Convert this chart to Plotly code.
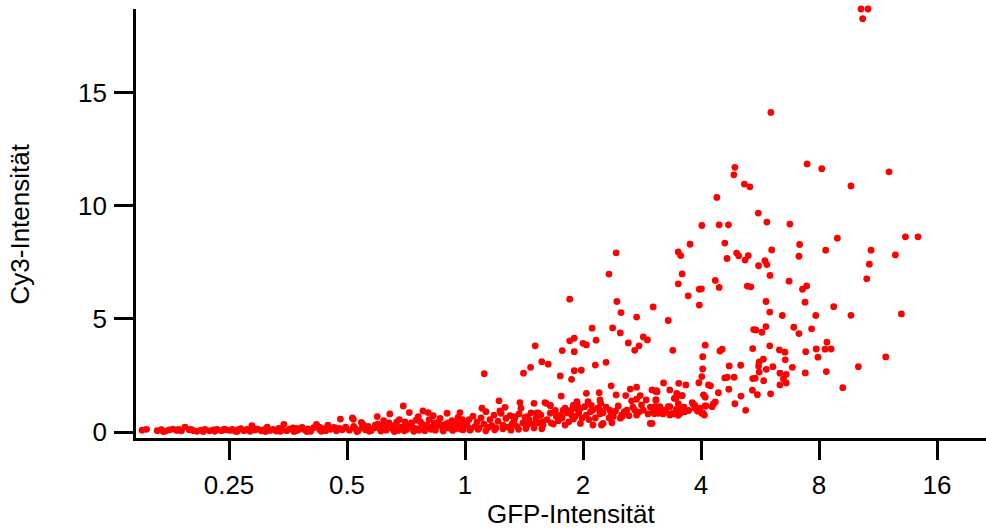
import plotly.graph_objects as go

# ---- data (GFP-Intensität, Cy3-Intensität) ----
band_low = [(0.150,.08),(0.154,.12),(0.164,.06),(0.168,.10),(0.172,.04),(0.176,.09),(0.180,.13),(0.184,.07),
            (0.189,.05),(0.193,.22),(0.198,.10),(0.203,.06),(0.207,.03),(0.212,.08),(0.217,.11),(0.223,.05),
            (0.228,.09),(0.233,.12),(0.239,.06),(0.245,.10),(0.170,.02),(0.186,.11),(0.200,.12),(0.215,.02),
            (0.230,.03),(0.243,.13)]

band_quarter = [(0.251,.07),(0.255,.12),(0.259,.04),(0.264,.10),(0.268,.15),(0.273,.06),(0.278,.11),(0.283,.03),
                (0.286,.28),(0.291,.09),(0.296,.13),(0.302,.05),(0.307,.10),(0.313,.22),(0.318,.07),(0.324,.12),
                (0.330,.04),(0.335,.16),(0.341,.09),(0.345,.34),(0.351,.06),(0.357,.13),(0.364,.18),(0.371,.05),
                (0.377,.11),(0.384,.20),(0.391,.08),(0.397,.14),(0.404,.03),(0.411,.19),(0.418,.34),(0.426,.10),
                (0.434,.15),(0.441,.06),(0.447,.30),(0.454,.12),(0.462,.20),(0.470,.05),(0.479,.16),(0.481,.57),
                (0.486,.10),(0.496,.22),(0.262,.02),(0.289,.15),(0.310,.02),(0.338,.03),(0.366,.02),(0.395,.02),
                (0.430,.03),(0.467,.18),(0.425,.22),(0.372,.16)]

band_half = [(0.507,.08),(0.516,.62),(0.519,.56),(0.525,.15),(0.534,.05),(0.544,.42),(0.547,.20),(0.557,.10),
             (0.566,.25),(0.576,.06),(0.587,.18),(0.597,.68),(0.599,.35),(0.608,.12),(0.618,.28),(0.629,.08),
             (0.640,.40),(0.643,.80),(0.652,.15),(0.663,.30),(0.675,.07),(0.687,.22),(0.696,1.15),(0.703,.45),
             (0.711,.12),(0.721,.86),(0.724,.30),(0.737,.18),(0.750,.52),(0.763,.08),(0.777,.35),(0.781,.93),
             (0.791,.20),(0.805,.86),(0.810,.55),(0.819,.12),(0.834,.40),(0.848,.25),(0.864,.60),(0.879,.10),
             (0.894,.35),(0.900,.83),(0.910,.18),(0.926,.50),(0.943,.28),(0.960,.65),(0.971,.86),(0.977,.12),
             (0.989,.38),(0.53,.02),(0.57,.03),(0.61,.04),(0.66,.02),(0.70,.05),(0.74,.03),(0.79,.06),(0.84,.08),
             (0.88,.04),(0.93,.07),(0.99,.10),(0.62,.50),(0.68,.55),(0.76,.68),(0.83,.72),(0.95,.15),
             (0.705,.25),(0.73,.40),(0.755,.15),(0.77,.45),(0.80,.30),(0.825,.22),(0.855,.45),(0.87,.30),
             (0.905,.40),(0.92,.22),(0.95,.45),(0.965,.30),(0.985,.55),(0.64,.22),(0.67,.45),(0.59,.30),
             (0.55,.32),(0.52,.25)]

band_one = [(1.012,.30),(1.024,.55),(1.036,.15),(1.048,.70),(1.061,.25),(1.073,.45),(1.086,.18),(1.099,.62),
            (1.105,1.05),(1.118,.35),(1.131,.90),(1.145,.20),(1.158,.55),(1.172,.28),(1.186,.75),(1.200,.18),
            (1.214,.48),(1.221,1.38),(1.228,.93),(1.236,.83),(1.250,.30),(1.265,1.09),(1.272,.60),(1.287,.22),
            (1.302,.72),(1.318,.35),(1.333,.50),(1.341,.63),(1.357,.25),(1.373,.80),(1.381,1.30),(1.389,1.05),
            (1.405,.40),(1.422,.65),(1.439,.30),(1.440,.68),(1.456,.55),(1.474,.85),(1.491,.35),(1.500,1.27),
            (1.517,.60),(1.526,.85),(1.544,.40),(1.562,.75),(1.580,.30),(1.599,1.30),(1.03,.08),(1.08,.12),
            (1.13,.05),(1.19,.10),(1.25,.14),(1.31,.08),(1.37,.12),(1.43,.15),(1.50,.18),(1.57,.14),
            (1.33,.68),(1.53,.69),(1.54,.83),(1.61,1.27),(1.65,1.16)]

band_two = [(1.65,1.18),(2.21,1.42),(2.22,1.27),(2.06,1.34),(1.93,1.34),(1.89,1.12),(2.74,1.45),(2.90,1.42),
            (3.07,1.42),(3.42,1.49),(3.58,1.61),(3.86,1.18),(4.10,1.15),(2.36,.85),(2.49,.61),(2.74,.75),
            (2.97,.38),(3.11,.83),(3.33,.75),(3.54,.83),(3.64,.90),(2.12,.31),(2.23,.31),(2.37,.41),(2.51,.75),
            (1.97,.38),(1.80,.31),(1.68,.35),(1.91,.68),(1.75,.75),(1.58,.46),(1.65,.83),(1.87,.75),(2.04,.75),
            (2.21,.97),(2.59,.97),(2.85,.97),(3.25,.97),(3.40,.83),(4.05,.83),(2.12,.97),(1.97,1.05),(1.78,.97),
            (1.71,.68),(3.08,1.83),(1.82,.85),(1.89,1.19),(1.93,1.27),(1.91,1.05),(2.09,.90),(2.21,.80),
            (2.34,.97),(2.39,.68),(2.25,.38),(2.52,.68),(2.66,1.38),(2.71,.97),(3.05,1.12),
            (1.62,.55),(1.66,.40),(1.70,.95),(1.73,.50),(1.77,.62),(1.80,1.05),(1.84,.45),(1.86,.95),(1.89,.58),
            (1.95,.85),(1.99,.62),(2.02,1.12),(2.07,.55),(2.10,1.18),(2.15,.62),(2.18,1.05),(2.25,.85),(2.29,1.10),
            (2.33,.62),(2.42,.92),(2.46,1.15),(2.55,.90),(2.62,.72),(2.68,1.10),(2.78,.88),(2.82,1.20),(2.93,.80),
            (2.97,1.10),(3.02,.92),(3.15,1.05),(3.20,.80),(3.30,1.12),(3.46,1.00),(3.50,1.25),(3.62,1.10),
            (3.72,.95),(3.80,1.30),(3.92,.92),(3.98,1.05)]

scatter_mid = [(2.33,6.98),(1.85,5.87),(2.44,5.77),(2.50,5.28),(2.74,5.08),(2.38,4.60),(2.49,4.38),(2.61,3.94),
               (2.71,3.61),(2.78,3.81),(2.85,4.20),(2.92,4.07),(2.11,4.59),(2.16,4.06),(2.00,3.92),(2.04,3.85),
               (1.90,4.15),(1.85,4.03),(1.77,3.60),(1.90,3.55),(1.51,3.81),(1.57,3.11),(1.63,3.00),(1.47,2.86),
               (1.41,2.60),(2.29,3.08),(2.15,2.96),(1.98,2.73),(1.90,2.71),(1.75,2.48),(1.87,2.33),(1.12,2.58),
               (2.36,2.04),(2.43,1.64),(2.57,1.61),(2.64,1.90),(2.74,1.98),(2.80,1.61),(2.04,1.71),(2.20,1.74),
               (1.76,1.59),(2.43,7.92)]

scatter_high = [(10.24,18.70),(10.67,18.70),(10.34,18.27),(6.03,14.13),(4.88,11.70),(4.85,11.37),(7.46,11.85),
                (8.13,11.64),(12.07,11.50),(5.16,10.96),(5.33,10.84),(9.65,10.88),(4.39,10.37),(5.60,9.68),
                (5.89,9.28),(6.74,9.19),(4.02,9.13),(4.45,9.16),(4.70,9.16),(3.75,8.30),(4.60,8.35),(8.91,8.57),
                (13.29,8.63),(14.31,8.63),(3.50,7.96),(3.55,7.80),(4.93,7.91),(4.99,7.79),(5.28,7.80),(4.66,7.67),
                (5.18,7.60),(6.06,8.05),(7.14,8.29),(7.11,7.77),(8.32,8.04),(10.86,8.04),(12.53,7.83),(5.82,7.57),
                (5.89,7.40),(5.61,7.35),(10.75,7.42)]

scatter_right = [(10.59,6.77),(3.58,6.99),(3.50,6.55),(3.71,6.02),(3.96,6.31),(4.01,6.33),(3.96,5.61),(3.02,5.53),
                 (3.30,4.93),(4.35,6.70),(4.45,6.39),(5.25,6.45),(5.36,6.42),(6.00,6.92),(6.71,6.67),(7.26,6.31),
                 (7.44,6.46),(5.86,5.77),(5.99,5.30),(7.37,5.74),(8.72,5.54),(9.65,5.16),(12.98,5.22),(7.85,5.15),
                 (6.45,5.15),(6.90,4.63),(7.11,4.35),(7.66,4.56),(5.45,4.53),(5.52,4.51),(5.72,4.41),(5.86,4.66),
                 (8.38,3.97),(8.29,3.66),(8.59,3.67),(7.87,3.67),(7.40,3.55),(7.95,3.31),(8.35,2.67),(7.38,2.61),
                 (11.84,3.32),(10.08,2.89),(9.20,1.96),(4.10,3.84),(4.04,3.33),(4.04,2.79),(4.02,2.45),(3.95,2.18),
                 (3.39,3.61),(4.47,3.58),(4.53,3.66),(4.72,2.92),(5.05,2.95),(4.86,2.42),(4.60,2.39),(4.67,2.42),
                 (5.42,3.69),(5.99,3.81),(5.77,3.22),(5.63,3.10),(5.61,2.92),(5.63,2.65),(6.10,2.89),(5.87,2.77),
                 (5.42,2.36),(5.50,2.38),(5.78,2.27),(6.34,3.63),(6.55,3.53),(6.56,3.19),(6.84,2.86),(6.36,2.60),
                 (6.60,2.55),(6.49,2.35),(6.36,2.08),(6.60,2.17),(5.41,1.85),(5.57,1.65),(6.02,1.69),(4.71,1.89),
                 (5.06,1.59),(4.88,1.25),(5.20,0.96),(4.43,1.74),(4.18,2.08),(4.23,2.04),(4.06,1.64),(4.10,1.54),
                 (4.12,1.15),(4.02,0.83),(4.08,0.75),(4.30,1.24),(4.35,1.33),(4.27,1.12),(3.82,1.23),(3.86,1.05),
                 (3.66,2.08),(3.51,2.15),(3.21,2.17),(3.33,1.86),(3.58,1.61),(3.47,1.71),(3.43,1.49),(3.46,1.52),
                 (3.33,1.12),(3.54,1.05),(3.62,0.90),(3.33,0.80),(3.40,0.80),(3.50,0.74),(3.07,1.42),(3.07,1.12),
                 (3.14,1.12),(3.11,0.87),(3.04,0.81),(3.00,0.38),(3.09,1.78),(3.06,1.80),(3.00,1.86)]

x_ticks = [0.25, 0.5, 1, 2, 4, 8, 16]
x_tick_labels = ["0.25", "0.5", "1", "2", "4", "8", "16"]
y_ticks = [0, 5, 10, 15]
x_title = "GFP-Intensität"
y_title = "Cy3-Intensität"

points = band_low + band_quarter + band_half + band_one + band_two + scatter_mid + scatter_high + scatter_right
gfp = [p[0] for p in points]
cy3 = [p[1] for p in points]

FONT = 'Arial, "Liberation Sans", sans-serif'
FS = 26

fig = go.Figure(go.Scatter(
    x=gfp, y=cy3, mode="markers",
    marker=dict(color="#ff0000", size=6.8, line=dict(width=0)),
    cliponaxis=False, hoverinfo="x+y",
))

axis_common = dict(
    showline=True, linecolor="black", linewidth=2.6,
    ticks="outside", ticklen=19, tickwidth=2.6, tickcolor="black",
    showgrid=False, zeroline=False, mirror=False,
    tickfont=dict(family=FONT, size=FS, color="black"),
)

fig.update_xaxes(type="log", range=[-0.8393, 1.3291], tickvals=x_ticks, ticktext=x_tick_labels,
                 ticklabelstandoff=3, **axis_common)
fig.update_yaxes(range=[-0.265, 18.70], tickvals=y_ticks, ticktext=[str(v) for v in y_ticks],
                 ticklabelstandoff=2, **axis_common)

fig.update_layout(
    width=986, height=530,
    margin=dict(l=136, r=0, t=9, b=92),
    plot_bgcolor="white", paper_bgcolor="white",
    showlegend=False,
    font=dict(family=FONT, size=FS, color="black"),
    annotations=[
        dict(text=x_title, xref="paper", yref="paper", x=0.5118, y=-0.1385,
             xanchor="center", yanchor="top", showarrow=False,
             font=dict(family=FONT, size=FS, color="black")),
        dict(text=y_title, xref="paper", yref="paper", x=-0.1365, y=0.5,
             xanchor="center", yanchor="middle", textangle=-90, showarrow=False,
             font=dict(family=FONT, size=FS, color="black")),
    ],
)

fig.write_html("out.html")
